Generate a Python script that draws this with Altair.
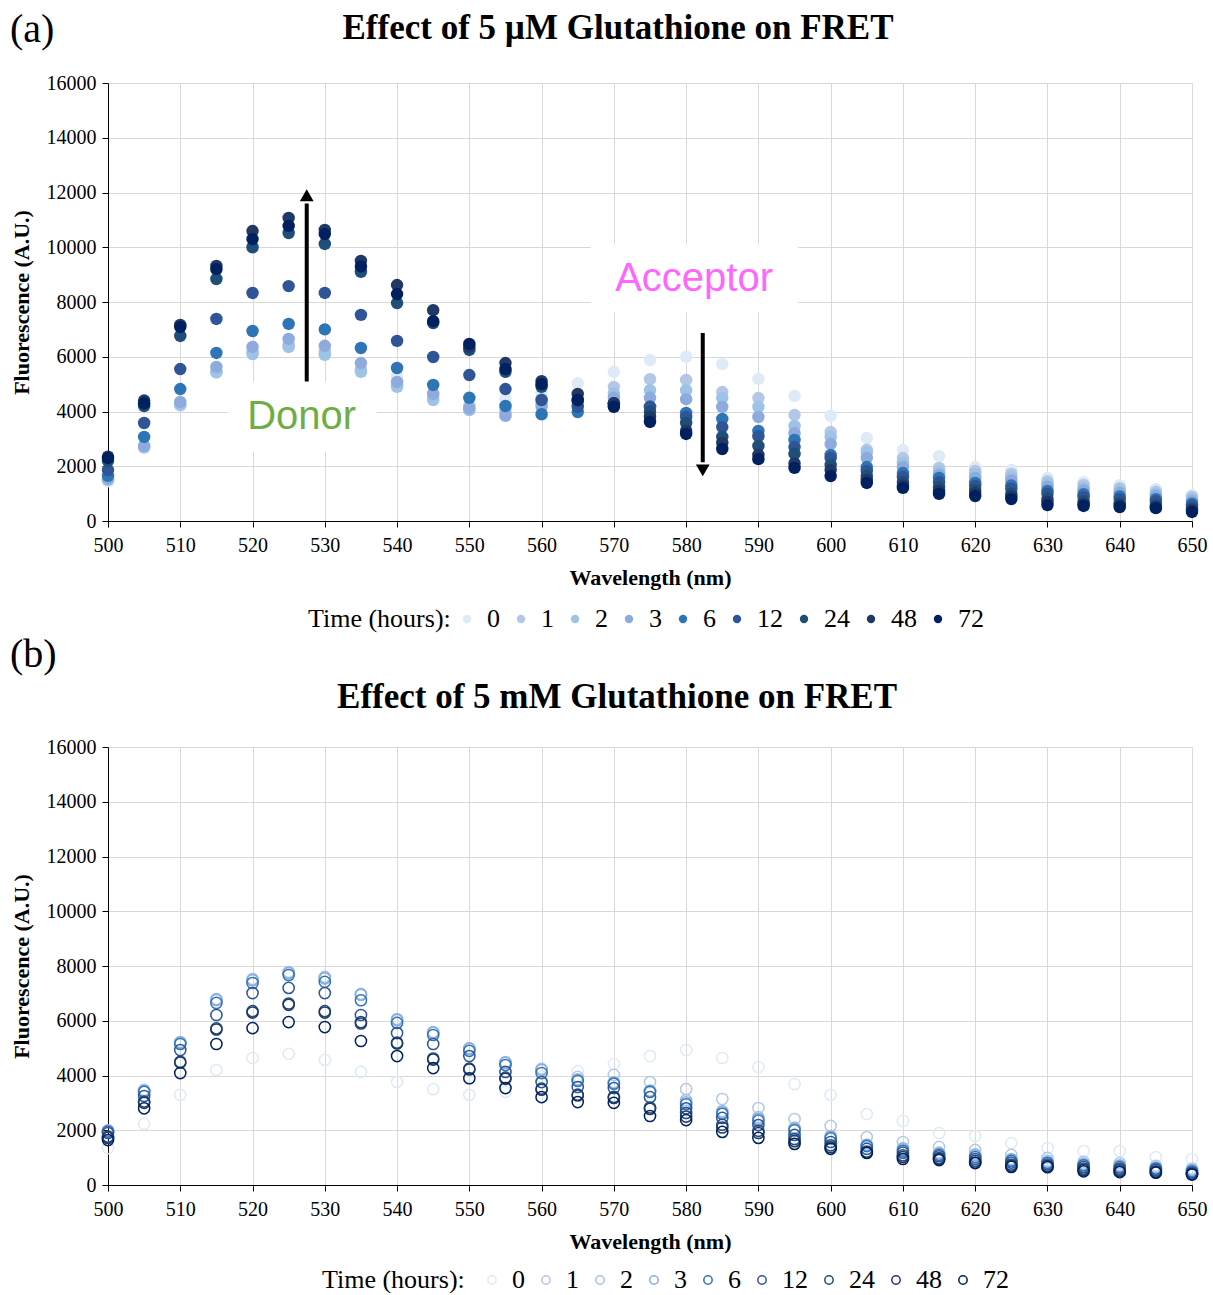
import altair as alt
import pandas as pd

# ---------------- data ----------------
wavelengths = [500, 505, 510, 515, 520, 525, 530, 535, 540, 545, 550, 555, 560, 565, 570,
               575, 580, 585, 590, 595, 600, 605, 610, 615, 620, 625, 630, 635, 640, 645, 650]
times = ["0", "1", "2", "3", "6", "12", "24", "48", "72"]
colors = ["#DEEBF7", "#B4C7E7", "#9DC3E6", "#8FAADC", "#2E75B6", "#2F5597", "#1F4E79", "#203864", "#002060"]

# (a) 5 uM glutathione
a_t0 = [1450, 2650, 4200, 5400, 6100, 6350, 6100, 5500, 5300, 4700, 4500, 4450, 4700, 5030, 5450, 5880, 6000, 5730, 5190, 4570, 3840, 3030, 2590, 2370, 1970, 1860, 1570, 1420, 1310, 1170, 950]
a_t1 = [1500, 2700, 4250, 5450, 6200, 6450, 6200, 5550, 5000, 4550, 4200, 4100, 4450, 4450, 4900, 5180, 5150, 4710, 4490, 3870, 3250, 2600, 2300, 1940, 1830, 1720, 1450, 1320, 1200, 1070, 880]
a_t2 = [1500, 2700, 4250, 5440, 6100, 6360, 6070, 5450, 4900, 4420, 4050, 3950, 4300, 4350, 4660, 4780, 4780, 4490, 4170, 3470, 3070, 2500, 2120, 1790, 1720, 1600, 1350, 1220, 1120, 1000, 800]
a_t3 = [1550, 2740, 4350, 5630, 6360, 6650, 6400, 5770, 5080, 4640, 4120, 3840, 4170, 4250, 4500, 4500, 4450, 4170, 3800, 3210, 2810, 2300, 1970, 1680, 1570, 1480, 1250, 1120, 1020, 920, 720]
a_t6 = [1650, 3070, 4820, 6140, 6940, 7200, 7000, 6320, 5590, 4970, 4500, 4200, 3900, 3980, 4200, 4170, 3950, 3730, 3290, 2960, 2410, 1970, 1750, 1570, 1390, 1300, 1100, 980, 900, 800, 630]
a_t12 = [1860, 3580, 5550, 7380, 8330, 8580, 8330, 7530, 6580, 5990, 5330, 4820, 4420, 4170, 4300, 4170, 3800, 3430, 3100, 2700, 2300, 1830, 1610, 1420, 1280, 1180, 1000, 880, 800, 720, 550]
a_t24 = [2200, 4200, 6760, 8840, 10000, 10520, 10120, 9100, 7960, 7230, 6250, 5450, 4900, 4400, 4300, 3980, 3580, 3070, 2740, 2450, 2050, 1640, 1420, 1240, 1130, 1000, 820, 720, 650, 580, 450]
a_t48 = [2350, 4400, 7160, 9320, 10590, 11070, 10630, 9500, 8620, 7700, 6360, 5770, 5110, 4640, 4300, 3800, 3300, 2850, 2410, 2100, 1860, 1500, 1300, 1100, 1020, 900, 700, 620, 580, 520, 400]
a_t72 = [2300, 4300, 7090, 9200, 10300, 10780, 10480, 9300, 8290, 7300, 6470, 5550, 5000, 4420, 4170, 3620, 3180, 2630, 2260, 1940, 1640, 1390, 1210, 990, 910, 800, 580, 550, 510, 470, 330]

# (b) 5 mM glutathione
b_t0 = [1350, 2230, 3290, 4200, 4640, 4790, 4570, 4130, 3760, 3500, 3290, 3400, 3950, 4160, 4420, 4710, 4930, 4640, 4310, 3690, 3290, 2590, 2340, 1900, 1790, 1530, 1350, 1240, 1240, 1020, 950]
b_t1 = [1980, 3450, 5200, 6750, 7500, 7750, 7550, 6950, 6050, 5570, 4980, 4470, 4220, 3950, 4020, 3760, 3500, 3140, 2810, 2410, 2160, 1750, 1570, 1390, 1280, 1100, 990, 850, 800, 700, 600]
b_t2 = [2000, 3470, 5220, 6790, 7520, 7780, 7600, 6980, 6060, 5590, 5000, 4490, 4240, 3860, 3750, 3450, 3100, 2700, 2480, 2100, 1800, 1480, 1350, 1180, 1120, 950, 880, 780, 720, 640, 550]
b_t3 = [1980, 3440, 5200, 6770, 7480, 7740, 7550, 6950, 6020, 5560, 4970, 4460, 4200, 3840, 3730, 3430, 3020, 2650, 2420, 2050, 1750, 1450, 1300, 1150, 1080, 920, 830, 750, 700, 620, 520]
b_t6 = [1950, 3400, 5150, 6650, 7380, 7670, 7420, 6750, 5920, 5480, 4900, 4380, 4090, 3800, 3700, 3400, 2950, 2600, 2350, 2000, 1700, 1420, 1250, 1100, 1020, 880, 800, 720, 650, 600, 500]
b_t12 = [1900, 3250, 4930, 6210, 7010, 7200, 7010, 6210, 5550, 5150, 4710, 4130, 3760, 3580, 3540, 3210, 2800, 2450, 2190, 1830, 1570, 1320, 1180, 1050, 950, 820, 750, 660, 600, 550, 450]
b_t24 = [1770, 3050, 4500, 5720, 6350, 6630, 6350, 5950, 5200, 4620, 4250, 3920, 3520, 3300, 3220, 2830, 2630, 2200, 1980, 1680, 1450, 1220, 1080, 980, 880, 750, 700, 600, 550, 500, 420]
b_t48 = [1720, 3000, 4470, 5680, 6300, 6580, 6300, 5900, 5170, 4580, 4220, 3880, 3480, 3270, 3180, 2780, 2500, 2100, 1900, 1600, 1380, 1200, 1020, 950, 820, 700, 680, 550, 500, 470, 400]
b_t72 = [1640, 2800, 4090, 5150, 5730, 5950, 5770, 5260, 4710, 4270, 3900, 3540, 3210, 3030, 3000, 2520, 2370, 1940, 1720, 1500, 1320, 1170, 950, 910, 800, 660, 650, 500, 470, 450, 380]

x_ticks = [500, 510, 520, 530, 540, 550, 560, 570, 580, 590, 600, 610, 620, 630, 640, 650]
y_ticks = [0, 2000, 4000, 6000, 8000, 10000, 12000, 14000, 16000]

series_a = [a_t0, a_t1, a_t2, a_t3, a_t6, a_t12, a_t24, a_t48, a_t72]
series_b = [b_t0, b_t1, b_t2, b_t3, b_t6, b_t12, b_t24, b_t48, b_t72]

title_a = "Effect of 5 \u00b5M Glutathione on FRET"
title_b = "Effect of 5 mM Glutathione on FRET"


def build(series):
    rows = []
    k = 0
    for t, vals in zip(times, series):
        for w, v in zip(wavelengths, vals):
            rows.append({"Wavelength": w, "Fluorescence": v, "Time": t, "idx": k})
            k += 1
    return pd.DataFrame(rows)


df_a = build(series_a)
df_b = build(series_b)

# annotation data (data coordinates)
arrow_df = pd.DataFrame({"Wavelength": [527.5, 582.3], "Fluorescence": [5100, 6870], "y2": [11600, 2150]})
head_df = pd.DataFrame({"Wavelength": [527.5], "Fluorescence": [11900]})
head_dn_df = pd.DataFrame({"Wavelength": [582.3], "Fluorescence": [1850]})
box_df = pd.DataFrame({"Wavelength": [516.6, 566.8], "x2": [537.2, 595.5],
                       "Fluorescence": [2520, 7630], "y2": [5080, 10100]})
donor_df = pd.DataFrame({"Wavelength": [526.8], "Fluorescence": [3800], "label": ["Donor"]})
acc_df = pd.DataFrame({"Wavelength": [581.1], "Fluorescence": [8840], "label": ["Acceptor"]})

# ---------------- styling ----------------
SERIF = "Liberation Serif"
W, H = 1084, 438

xscale = alt.Scale(domain=[500, 650], nice=False, zero=False)
yscale = alt.Scale(domain=[0, 16000], nice=False)


def xaxis():
    return alt.Axis(values=x_ticks, title="Wavelength (nm)", format="d",
                    labelFont=SERIF, labelFontSize=20, labelColor="black", labelPadding=8,
                    titleFont=SERIF, titleFontSize=22, titleFontWeight="bold", titleColor="black",
                    titlePadding=12, domainColor="black", tickColor="black", tickSize=6,
                    gridColor="#D9D9D9", gridWidth=1, labelFlush=False)


def yaxis():
    return alt.Axis(values=y_ticks, title="Fluorescence (A.U.)", format="d",
                    labelFont=SERIF, labelFontSize=20, labelColor="black", labelPadding=6,
                    titleFont=SERIF, titleFontSize=22, titleFontWeight="bold", titleColor="black",
                    titlePadding=13, domainColor="black", tickColor="black", tickSize=6,
                    gridColor="#D9D9D9", gridWidth=1)


def X(field="Wavelength"):
    return alt.X(f"{field}:Q", scale=xscale, axis=xaxis())


def Y(field="Fluorescence"):
    return alt.Y(f"{field}:Q", scale=yscale, axis=yaxis())


def legend(xpos, ypos, tpad):
    return alt.Legend(title="Time (hours):", orient="none", legendX=xpos, legendY=ypos,
                      direction="horizontal", titleOrient="left", titleFont=SERIF,
                      titleFontSize=26, titleFontWeight="normal", titleColor="black",
                      titlePadding=tpad, labelFont=SERIF, labelFontSize=26, labelColor="black",
                      labelOffset=7, columnPadding=8, symbolSize=70, symbolStrokeWidth=1.5)


def text_layer(txt, xpx, ypx, size, weight="normal", align="left"):
    return alt.Chart(pd.DataFrame({"t": [txt]})).mark_text(
        font=SERIF, fontSize=size, fontWeight=weight, color="black", align=align,
        baseline="middle").encode(x=alt.value(xpx), y=alt.value(ypx), text="t:N")


# ---------------- panel (a) ----------------
pts_a = alt.Chart(df_a).mark_circle(size=155, opacity=1).encode(
    x=X(), y=Y(),
    color=alt.Color("Time:N", sort=times, scale=alt.Scale(domain=times, range=colors),
                    legend=legend(200, 523, 3)),
    order=alt.Order("idx:Q"),
)

boxes = alt.Chart(box_df).mark_rect(color="white").encode(
    x=X(), x2="x2:Q", y=Y(), y2="y2:Q")

shafts = alt.Chart(arrow_df).mark_rule(color="black", strokeWidth=4).encode(
    x=X(), y=Y(), y2="y2:Q")

head_up = alt.Chart(head_df).mark_point(shape="triangle-up", filled=True, color="black",
                                        size=190, opacity=1).encode(x=X(), y=Y())
head_dn = alt.Chart(head_dn_df).mark_point(shape="triangle-down", filled=True, color="black",
                                           size=190, opacity=1).encode(x=X(), y=Y())

donor_txt = alt.Chart(donor_df).mark_text(font="Liberation Sans", fontSize=40, color="#70AD47",
                                          align="center", baseline="middle").encode(
    x=X(), y=Y(), text="label:N")
acc_txt = alt.Chart(acc_df).mark_text(font="Liberation Sans", fontSize=40, color="#FF66FF",
                                      align="center", baseline="middle").encode(
    x=X(), y=Y(), text="label:N")

lab_a = text_layer("(a)", -98, -53, 40)
ttl_a = text_layer(title_a, 510, -55, 35, weight="bold", align="center")

chart_a = alt.layer(boxes, pts_a, shafts, head_up, head_dn, donor_txt, acc_txt, lab_a, ttl_a).properties(
    width=W, height=H)

# ---------------- panel (b) ----------------
pts_b = alt.Chart(df_b).mark_point(size=125, filled=False, opacity=1, strokeWidth=1.5).encode(
    x=X(), y=Y(),
    color=alt.Color("Time:N", sort=times, scale=alt.Scale(domain=times, range=colors),
                    legend=legend(214, 520, 14)),
    order=alt.Order("idx:Q"),
)

lab_b = text_layer("(b)", -98, -92, 40)
ttl_b = text_layer(title_b, 509, -50, 35, weight="bold", align="center")

chart_b = alt.layer(pts_b, lab_b, ttl_b).properties(width=W, height=H)

chart = alt.vconcat(chart_a, chart_b, spacing=3).resolve_scale(color="independent").resolve_legend(
    color="independent").properties(
    padding={"left": 10, "top": 10, "right": 5, "bottom": 0}, background="white"
).configure_view(strokeWidth=0)

chart.save("out.html", embed_options={"renderer": "svg", "actions": False})
